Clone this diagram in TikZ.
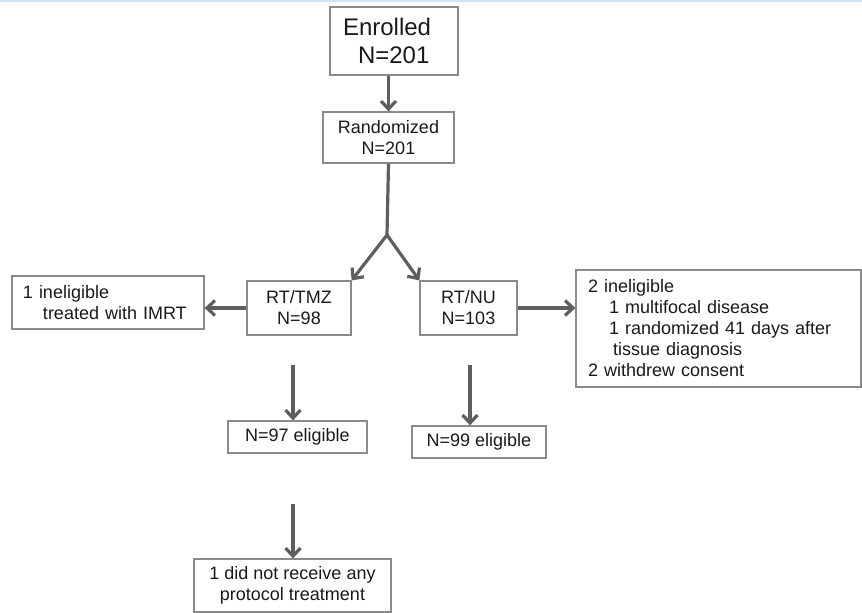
\documentclass[tikz,border=0pt]{standalone}
\usepackage{fontspec}
\setmainfont{Liberation Sans}
\usetikzlibrary{arrows.meta}
\definecolor{arrowgray}{HTML}{5E5E5E}
\definecolor{boxgray}{HTML}{8A8A8A}
\definecolor{frameblue}{HTML}{D5E3EF}

\begin{document}
\begin{tikzpicture}[x=1pt,y=-1pt]
  \tikzset{box/.style = {shape=rectangle,draw=boxgray,line width=1.3pt,inner sep=0pt,text=black!90,font=\fontsize{18}{21}\selectfont}}
  \tikzset{lbox/.style = {box,align=left}}
  \tikzset{cbox/.style = {box,align=center}}
  \tikzset{%
  tipB/.tip={Straight Barb[length=8pt,width=15pt]},
  }
  \tikzset{flow/.style = {color=arrowgray,line width=3.2pt,-tipB}}

  \useasboundingbox (0,0) rectangle (862,613);
  \draw[frameblue,line width=2pt] (0,1) -- (862,1);

	\node[lbox, minimum width=128pt, minimum height=68pt, text width=102pt, font=\fontsize{24}{28}\selectfont] (enrolled) at (394,41) {Enrolled\\\hspace*{15pt}N=201};
	\node[cbox, minimum width=131pt, minimum height=51pt] (random) at (388.5,137.5) {Randomized\\N=201};

	\node[cbox, minimum width=104pt, minimum height=54pt] (tmz) at (299,308) {RT/TMZ\\N=98};
	\node[cbox, minimum width=97pt, minimum height=54pt] (nu) at (468.5,308) {RT/NU\\N=103};

	\node[lbox, minimum width=192pt, minimum height=53pt, text width=170pt] (inelA) at (108,302.5) {1 ineligible\\\hspace*{20pt}treated with IMRT};
	\node[lbox, minimum width=285pt, minimum height=117pt, text width=261pt] (inelB) at (718.5,328.5) {2 ineligible\\\hspace*{21pt}1 multifocal disease\\\hspace*{21pt}1 randomized 41 days after\\\hspace*{25pt}tissue diagnosis\\2 withdrew consent};

	\node[cbox, minimum width=139pt, minimum height=32pt] (eligA) at (297.5,437) {N=97 eligible};
	\node[cbox, minimum width=134pt, minimum height=32pt] (eligB) at (479,442) {N=99 eligible};

	\node[cbox, minimum width=197pt, minimum height=53pt] (notx) at (292.5,585.5) {1 did not receive any\\protocol treatment};

	\coordinate (split) at (387,235);
	\coordinate (tmzdown) at (293,365);
	\coordinate (nudown) at (470,365);
	\coordinate (eligdown) at (293,504);

    \draw[flow] (enrolled.south -| random.north) -- (random.north);
    \draw[color=arrowgray,line width=3.2pt] (random.south) -- (split);

    \foreach \from/\to in {split/tmz.north east, split/nu.north west}
    \path[flow](\from) edge (\to);

    \draw[flow] (tmz.west) -- (tmz.west -| inelA.east);
    \draw[flow] (nu.east) -- (nu.east -| inelB.west);

    \foreach \from/\to in {tmzdown/eligA, nudown/eligB, eligdown/notx}
    \draw[flow] (\from) -- (\from |- \to.north);

\end{tikzpicture}
\end{document}
